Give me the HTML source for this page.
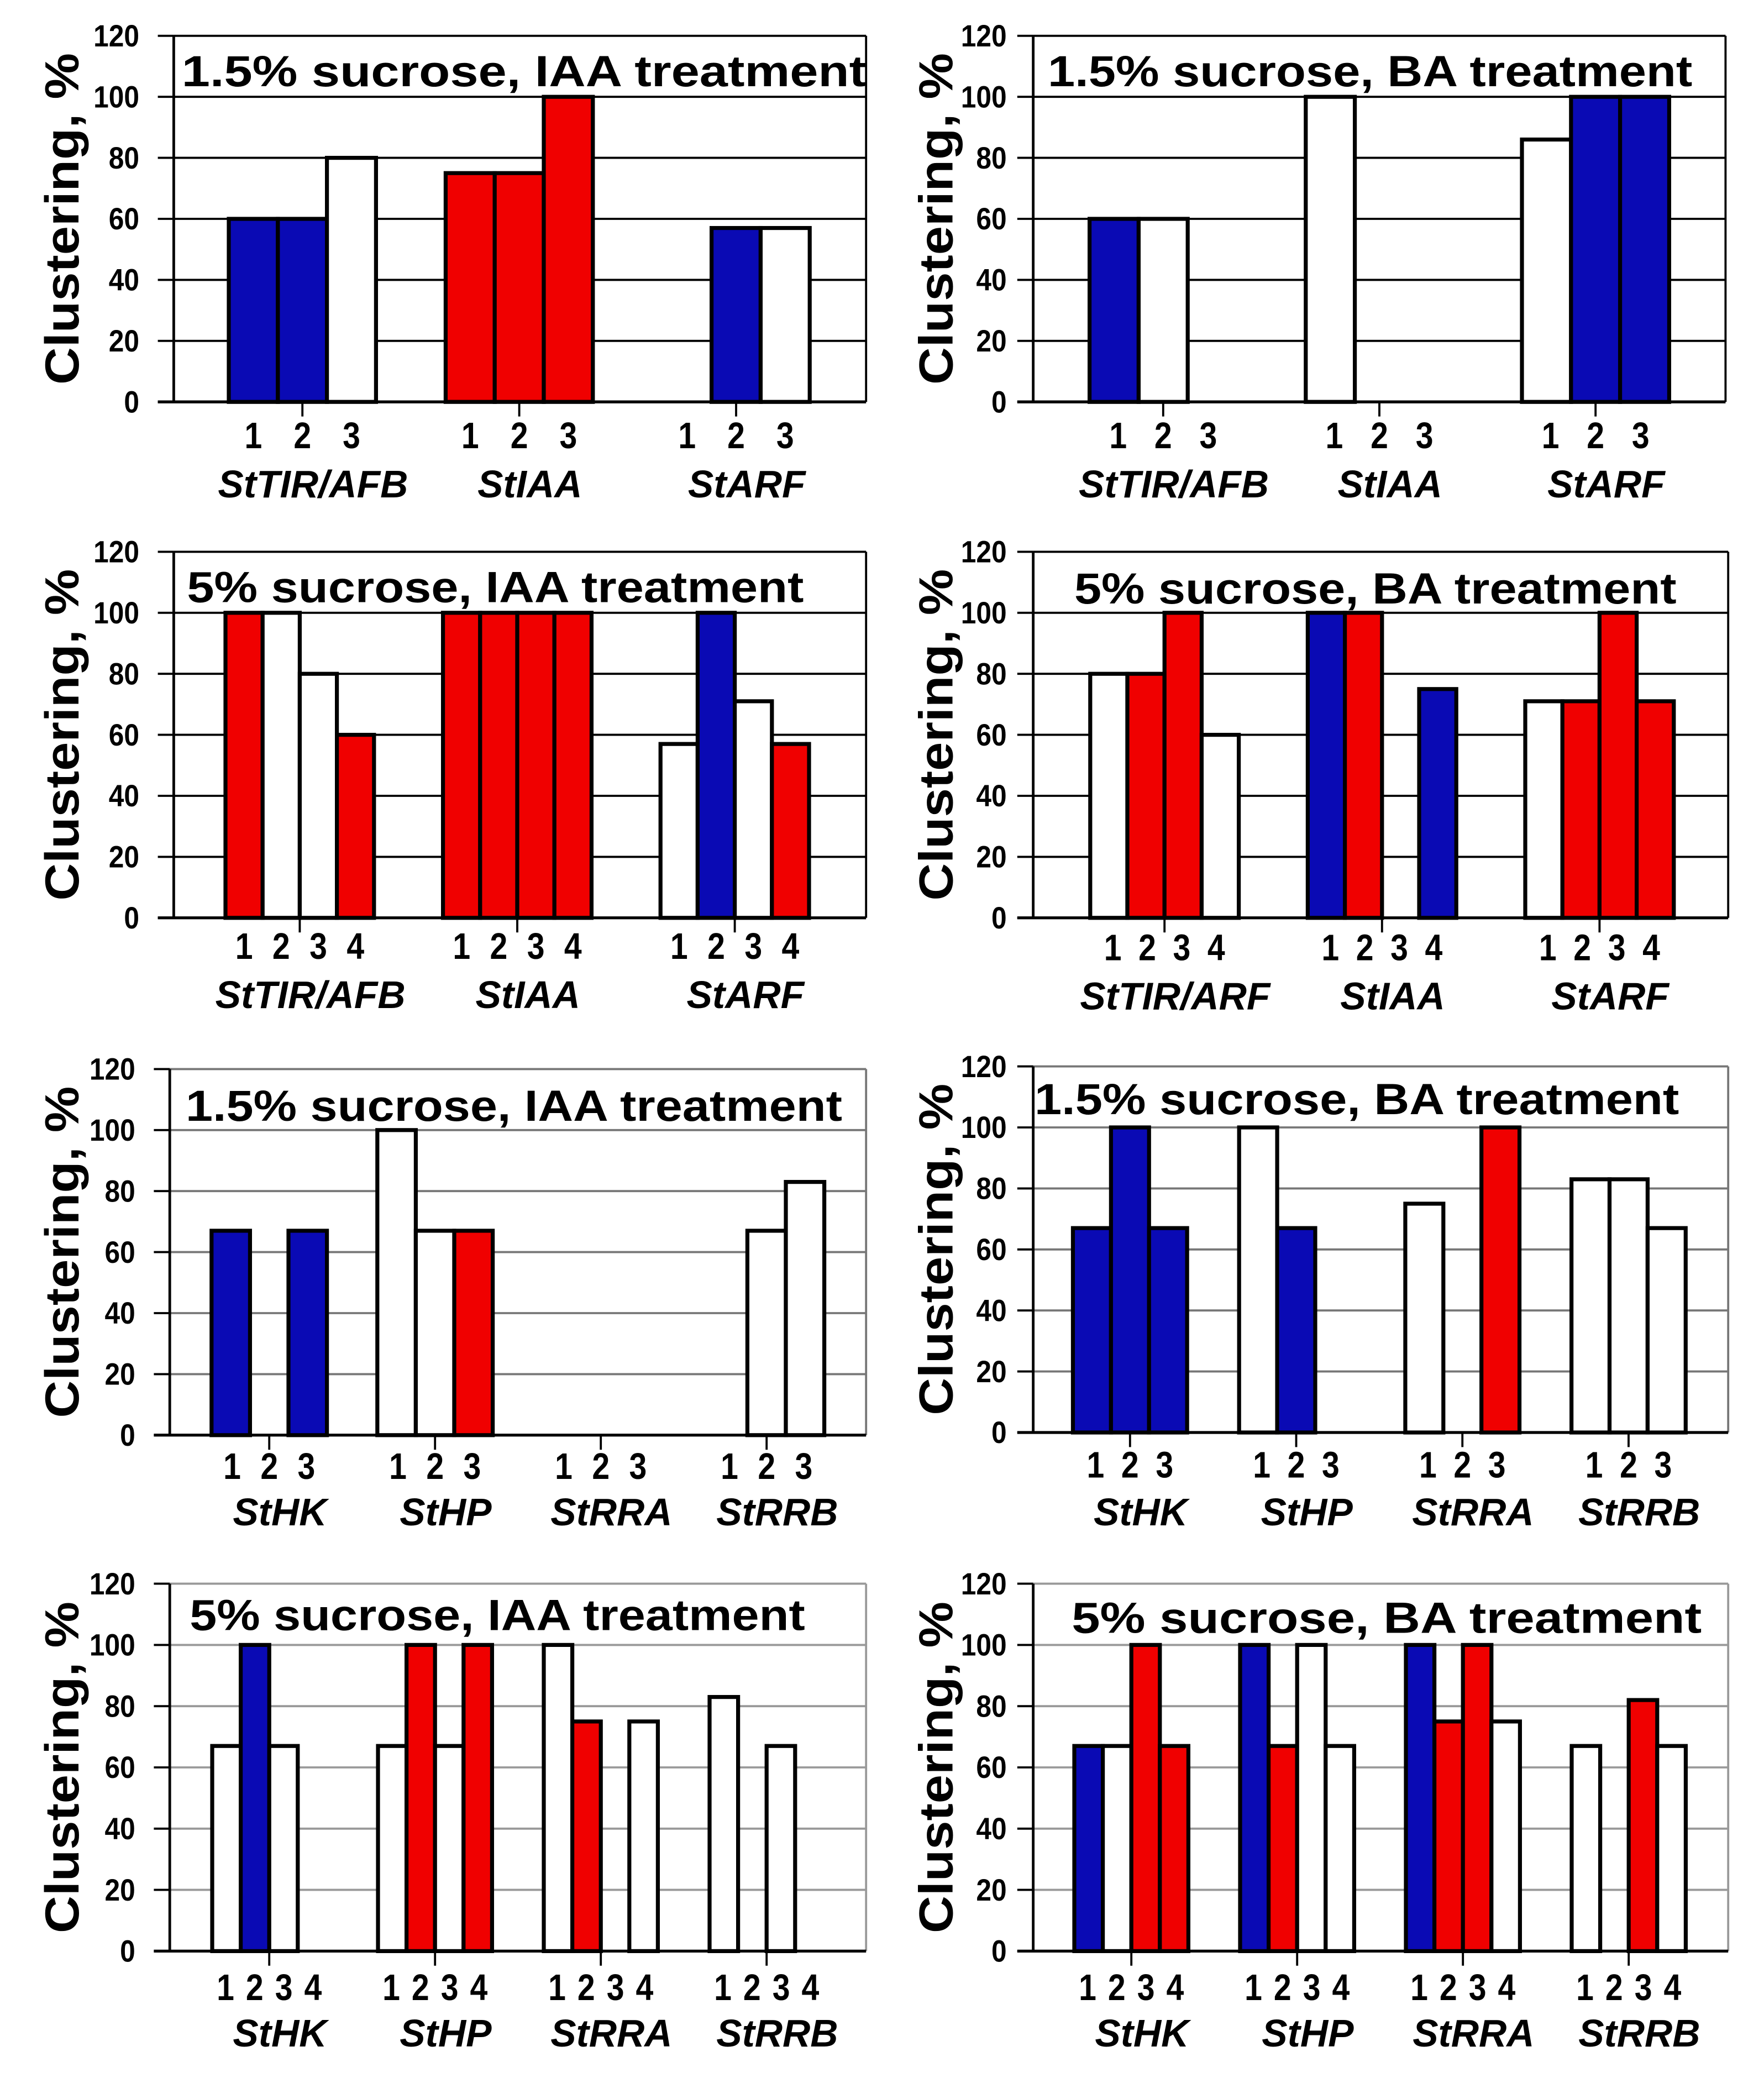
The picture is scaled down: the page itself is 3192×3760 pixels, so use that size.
<!DOCTYPE html>
<html><head><meta charset="utf-8">
<style>
html,body{margin:0;padding:0;background:#fff;}
svg{display:block;}
text{font-family:"Liberation Sans",Arial,sans-serif;font-weight:bold;fill:#000;}
</style></head>
<body>
<svg id="fig" xmlns="http://www.w3.org/2000/svg" width="3192" height="3760" viewBox="0 0 1330 1566.67"></svg>
<script>
// ---------- data ----------
const yTicks = [0, 20, 40, 60, 80, 100, 120];
const auxinCats = ["StTIR/AFB", "StIAA", "StARF"];
const auxinCatsBA5 = ["StTIR/ARF", "StIAA", "StARF"];
const cytoCats = ["StHK", "StHP", "StRRA", "StRRB"];
const slots3 = ["1", "2", "3"];
const slots4 = ["1", "2", "3", "4"];
const titles = ["1.5% sucrose, IAA treatment", "1.5% sucrose, BA treatment", "5% sucrose, IAA treatment", "5% sucrose, BA treatment",
  "1.5% sucrose, IAA treatment", "1.5% sucrose, BA treatment", "5% sucrose, IAA treatment", "5% sucrose, BA treatment"];
const p1Values = [[60, 60, 80], [75, 75, 100], [null, 57, 57]];
const p1Colors = [["b", "b", "w"], ["r", "r", "r"], [null, "b", "w"]];
const p2Values = [[60, 60, null], [100, null, null], [86, 100, 100]];
const p2Colors = [["b", "w", null], ["w", null, null], ["w", "b", "b"]];
const p3Values = [[100, 100, 80, 60], [100, 100, 100, 100], [57, 100, 71, 57]];
const p3Colors = [["r", "w", "w", "r"], ["r", "r", "r", "r"], ["w", "b", "w", "r"]];
const p4Values = [[80, 80, 100, 60], [100, 100, null, 75], [71, 71, 100, 71]];
const p4Colors = [["w", "r", "r", "w"], ["b", "r", null, "b"], ["w", "r", "r", "r"]];
const p5Values = [[67, null, 67], [100, 67, 67], [null, null, null], [null, 67, 83]];
const p5Colors = [["b", null, "b"], ["w", "w", "r"], [null, null, null], [null, "w", "w"]];
const p6Values = [[67, 100, 67], [100, 67, null], [75, null, 100], [83, 83, 67]];
const p6Colors = [["b", "b", "b"], ["w", "b", null], ["w", null, "r"], ["w", "w", "w"]];
const p7Values = [[67, 100, 67, null], [67, 100, 67, 100], [100, 75, null, 75], [83, null, 67, null]];
const p7Colors = [["w", "b", "w", null], ["w", "r", "w", "r"], ["w", "r", null, "w"], ["w", null, "w", null]];
const p8Values = [[67, 67, 100, 67], [100, 67, 100, 67], [100, 75, 100, 75], [67, null, 82, 67]];
const p8Colors = [["b", "w", "r", "r"], ["b", "r", "w", "w"], ["b", "r", "r", "w"], ["w", null, "r", "w"]];

// ---------- layout ----------
const FILL = {b: "#0a0ab4", r: "#f00000", w: "#ffffff"};
const panels = [
  {cats: auxinCats, slots: slots3, vals: p1Values, cols: p1Colors, L: 131, R: 653, top: 27, base: 303, pad: 97, step: 163.5, bw: 37, lsp: 37, grid: "#000", tx: 137, tw: 516, ty: 65, dy: 338, cy: 375, right: false},
  {cats: auxinCats, slots: slots3, vals: p2Values, cols: p2Colors, L: 779, R: 1301, top: 27, base: 303, pad: 98, step: 163, bw: 37, lsp: 34, grid: "#000", tx: 790, tw: 486, ty: 65, dy: 338, cy: 375, right: true},
  {cats: auxinCats, slots: slots4, vals: p3Values, cols: p3Colors, L: 131, R: 653, top: 416, base: 692, pad: 95, step: 164, bw: 28, lsp: 28, grid: "#000", tx: 141, tw: 465, ty: 454, dy: 723, cy: 760, right: false},
  {cats: auxinCatsBA5, slots: slots4, vals: p4Values, cols: p4Colors, L: 779, R: 1303, top: 416, base: 692, pad: 99, step: 164, bw: 28, lsp: 26, grid: "#000", tx: 810, tw: 454, ty: 455, dy: 724, cy: 761, right: true},
  {cats: cytoCats, slots: slots3, vals: p5Values, cols: p5Colors, L: 128, R: 653, top: 806, base: 1082, pad: 75, step: 125, bw: 29, lsp: 28, grid: "#777", tx: 140, tw: 495, ty: 845, dy: 1115, cy: 1150, right: false},
  {cats: cytoCats, slots: slots3, vals: p6Values, cols: p6Colors, L: 779, R: 1303, top: 804, base: 1080, pad: 73, step: 125.3, bw: 28.7, lsp: 26, grid: "#777", tx: 780, tw: 486, ty: 840, dy: 1114, cy: 1150, right: true},
  {cats: cytoCats, slots: slots4, vals: p7Values, cols: p7Colors, L: 128, R: 653, top: 1194, base: 1471, pad: 75, step: 125, bw: 21.5, lsp: 22, grid: "#999", tx: 143, tw: 464, ty: 1229, dy: 1508, cy: 1543, right: false},
  {cats: cytoCats, slots: slots4, vals: p8Values, cols: p8Colors, L: 779, R: 1303, top: 1194, base: 1471, pad: 74, step: 125, bw: 21.5, lsp: 22, grid: "#999", tx: 808, tw: 475, ty: 1231, dy: 1508, cy: 1543, right: true}
];

const NS = "http://www.w3.org/2000/svg";
const svg = document.getElementById("fig");
function mk(tag, attrs, parent) {
  const e = document.createElementNS(NS, tag);
  for (const k in attrs) e.setAttribute(k, attrs[k]);
  parent.appendChild(e);
  return e;
}

panels.forEach((p, pi) => {
  const g = mk("g", {}, svg);
  
  
  const yScale = v => p.base - (v / 120) * (p.base - p.top);
  const groupX = i => p.L + p.pad + i * p.step;
  const n = p.slots.length;

  yTicks.forEach(t => {
    if (t === 0) return;
    const ln = mk("line", {x1: p.L, x2: p.R, y1: yScale(t), y2: yScale(t), stroke: p.grid, "stroke-width": 1.6}, g);
    
    
  });
  const rb = mk("line", {x1: p.R, x2: p.R, y1: p.top, y2: p.base, stroke: p.grid, "stroke-width": 1.6}, g);
  
  

  const tt = mk("text", {x: p.tx, y: p.ty, "font-size": 33, textLength: p.tw, lengthAdjust: "spacingAndGlyphs"}, g);
  tt.textContent = titles[pi];
  
  

  p.vals.forEach((grp, gi) => {
    grp.forEach((v, si) => {
      if (v === null || p.cols[gi][si] === null) return;
      const x = groupX(gi) + (si - n / 2) * p.bw;
      const r = mk("rect", {x: x, y: yScale(v), width: p.bw, height: yScale(0) - yScale(v), fill: FILL[p.cols[gi][si]], stroke: "#000", "stroke-width": 3}, g);
      
      
    });
    const tk = mk("line", {x1: groupX(gi), x2: groupX(gi), y1: p.base, y2: p.base + 11, stroke: "#000", "stroke-width": 1.6}, g);
    
    
    p.slots.forEach((s, si) => {
      const dx = groupX(gi) + (si - (n - 1) / 2) * p.lsp;
      const t = mk("text", {x: 0, y: 0, "font-size": 28, "text-anchor": "middle", transform: "translate(" + dx + " " + p.dy + ") scale(0.85 1)"}, g);
      t.textContent = s;
      
      
    });
    const c = mk("text", {x: groupX(gi) + 8, y: p.cy, "font-size": 29, "font-style": "italic", "text-anchor": "middle"}, g);
    c.textContent = p.cats[gi];
    
    
  });

  const ya = mk("line", {x1: p.L, x2: p.L, y1: p.top, y2: p.base, stroke: "#000", "stroke-width": 2}, g);
  
  
  const xa = mk("line", {x1: p.L - 12, x2: p.R, y1: p.base, y2: p.base, stroke: "#000", "stroke-width": 2.2}, g);
  
  
  yTicks.forEach(t => {
    const tk = mk("line", {x1: p.L - 12, x2: p.L, y1: yScale(t), y2: yScale(t), stroke: "#000", "stroke-width": 1.6}, g);
    
    
    const lx = p.L - (p.right ? 20 : 26);
    const lb = mk("text", {x: 0, y: 0, "font-size": 23, "text-anchor": "end", transform: "translate(" + lx + " " + (yScale(t) + 8) + ") scale(0.9 1)"}, g);
    lb.textContent = String(t);
    
    
  });
  const cx = p.right ? 706 : 47;
  const cyy = (p.top + p.base) / 2;
  const yt = mk("text", {x: cx, y: cyy, "font-size": 36, "text-anchor": "middle", "dominant-baseline": "central", transform: "rotate(-90 " + cx + " " + cyy + ")", textLength: 250, lengthAdjust: "spacingAndGlyphs"}, g);
  yt.textContent = "Clustering, %";
  
  
});
</script>
</body></html>
